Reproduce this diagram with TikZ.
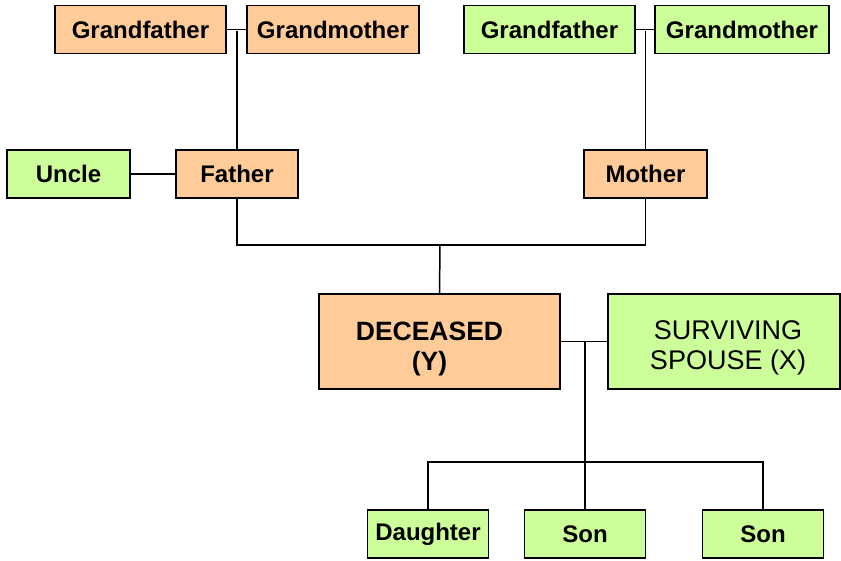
\documentclass[tikz,border=0pt]{standalone}
\usepackage{fontspec}
\setmainfont{Liberation Sans}
\usepackage{tikz}
\usetikzlibrary{positioning}
\usetikzlibrary{calc}
\definecolor{peach}{HTML}{FFCC99}
\definecolor{lime}{HTML}{CCFF99}

\begin{document}
\begin{tikzpicture}[x=1pt, y=-1pt, line width=1.5pt,
		person/.style={draw=black, minimum height=48pt, inner sep=0pt,
			font=\fontsize{24}{28}\selectfont\bfseries},
		blood/.style={person, fill=peach},
		other/.style={person, fill=lime}]
	\useasboundingbox (0, 0) rectangle (841, 560);

	% grandparents
	\node[blood, minimum width=171pt] (gfL) at (140.5, 29.5) {Grandfather};
	\node[blood, minimum width=172pt] (gmL) at (333, 29.5) {Grandmother};
	\node[other, minimum width=171pt] (gfR) at (549.5, 29.5) {Grandfather};
	\node[other, minimum width=174pt] (gmR) at (742, 29.5) {Grandmother};

	% parents
	\node[other, minimum width=123pt] (uncle) at (68.5, 174) {Uncle};
	\node[blood, minimum width=122pt] (father) at (237, 174) {Father};
	\node[blood, minimum width=123pt] (mother) at (645.5, 174) {Mother};

	% couple
	\node[blood, minimum width=241pt, minimum height=95pt,
		label={[align=center, xshift=-10pt, yshift=-7pt,
			font=\fontsize{26.5}{30}\selectfont\bfseries]center:DECEASED\\(Y)}] (deceased) at (439.5, 341.5) {};
	\node[other, minimum width=232pt, minimum height=95pt,
		label={[align=center, xshift=4pt, yshift=-6pt,
			font=\fontsize{27}{30}\selectfont]center:SURVIVING\\SPOUSE (X)}] (spouse) at (724, 341.5) {};

	% children
	\node[other, minimum width=121pt] (daughter) at (428, 534) {Daughter};
	\node[other, minimum width=121pt] (son1) at (585, 534) {Son};
	\node[other, minimum width=121pt] (son2) at (763, 534) {Son};

	\coordinate (linkL) at (237, 31);
	\coordinate (linkR) at (645.5, 31);
	\coordinate (parents) at (440, 245);
	\coordinate (marriage) at (585, 342);
	\coordinate (kids) at (585, 462);

	\draw (gfL.east) -- (gmL.west);
	\draw (linkL) -- (father.north);
	\draw (gfR.east) -- (gmR.west);
	\draw (linkR) -- (mother.north);
	\draw (uncle.east) -- (father.west);
	\draw (father.south) |- (parents) -| (mother.south);
	\draw (parents) -- (deceased.north);
	\draw (deceased.east) -- (spouse.west);
	\draw (marriage) -- (son1.north);
	\draw (daughter.north) |- (kids) -| (son2.north);
\end{tikzpicture}
\end{document}
